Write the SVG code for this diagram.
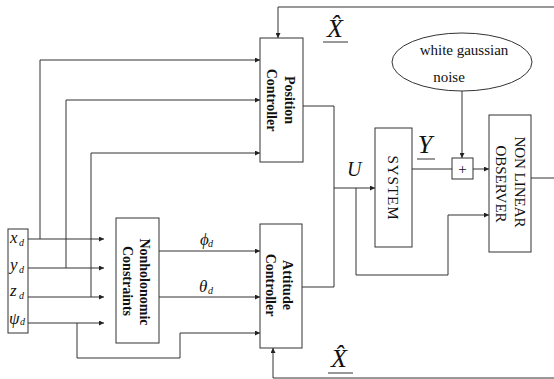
<svg xmlns="http://www.w3.org/2000/svg" width="554" height="379" viewBox="0 0 554 379">
<defs>
<marker id="ah" viewBox="0 0 10 10" refX="10" refY="5" markerWidth="5" markerHeight="5" orient="auto" markerUnits="userSpaceOnUse">
<path d="M0,0 L10,5 L0,10 z" fill="#222"/>
</marker>
<style>
.box{fill:#fff;stroke:#333;stroke-width:1}
.ln{fill:none;stroke:#333;stroke-width:1}
.ar{fill:none;stroke:#333;stroke-width:1;marker-end:url(#ah)}
.lb{font-family:"Liberation Serif",serif;font-weight:bold;font-size:14px;fill:#111}
.rg{font-family:"Liberation Serif",serif;font-size:15px;fill:#111}
.it{font-family:"Liberation Serif",serif;font-style:italic;fill:#111}
.sub{font-family:"Liberation Serif",serif;font-style:italic;font-size:10px;fill:#111}
</style>
</defs>
<rect width="554" height="379" fill="#fff"/>

<g id="connectors">
<polyline class="ar" points="554,7 278,7 278,38"/>
<polyline class="ar" points="40,239 40,60 260,60"/>
<polyline class="ar" points="66,268 66,100 260,100"/>
<polyline class="ar" points="91,297 91,153 260,153"/>
<line class="ar" x1="28" y1="239" x2="104" y2="239"/>
<line class="ar" x1="28" y1="268" x2="104" y2="268"/>
<line class="ar" x1="28" y1="297" x2="104" y2="297"/>
<line class="ar" x1="28" y1="323" x2="104" y2="323"/>
<polyline class="ar" points="77,323 77,358 180,358 180,333 260,333"/>
<line class="ar" x1="159" y1="251" x2="260" y2="251"/>
<line class="ar" x1="159" y1="297" x2="260" y2="297"/>
<polyline class="ar" points="554,378 273,378 273,348"/>
<polyline class="ln" points="303,106 334,106 334,287 302,287"/>
<line class="ar" x1="334" y1="188" x2="375" y2="188"/>
<polyline class="ar" points="356,188 356,275 448,275 448,215 489,215"/>
<line class="ln" x1="412" y1="169" x2="452" y2="169"/>
<line class="ar" x1="473" y1="169" x2="489" y2="169"/>
<line class="ar" x1="462" y1="91" x2="462" y2="158"/>
<line class="ln" x1="531" y1="178" x2="554" y2="178"/>
</g>

<g id="inputs">
<rect class="box" x="8" y="229" width="20" height="104"/>
<text class="it" font-size="17" x="10" y="243">x</text><text class="sub" x="19" y="246">d</text>
<text class="it" font-size="17" x="10" y="270">y</text><text class="sub" x="19" y="273">d</text>
<text class="it" font-size="17" x="10" y="296">z</text><text class="sub" x="19" y="299">d</text>
<text class="it" font-size="17" x="9" y="324">ψ</text><text class="sub" x="20" y="325">d</text>
</g>

<g id="position-controller">
<rect class="box" x="260" y="38" width="43" height="124"/>
<text class="lb" text-anchor="middle" transform="translate(285,100) rotate(90)">Position</text>
<text class="lb" text-anchor="middle" transform="translate(267,100) rotate(90)">Controller</text>
</g>

<g id="attitude-controller">
<rect class="box" x="260" y="224" width="42" height="124"/>
<text class="lb" text-anchor="middle" transform="translate(283,285) rotate(90)">Attitude</text>
<text class="lb" text-anchor="middle" transform="translate(266,285) rotate(90)">Controller</text>
</g>

<g id="nonholonomic">
<rect class="box" x="116" y="218" width="43" height="125"/>
<text class="lb" text-anchor="middle" transform="translate(140,282) rotate(90)">Nonholonomic</text>
<text class="lb" text-anchor="middle" transform="translate(123,281) rotate(90)">Constraints</text>
</g>

<g id="system">
<rect class="box" x="375" y="128" width="37" height="119"/>
<text class="rg" font-size="16" text-anchor="middle" letter-spacing="1" transform="translate(388,188) rotate(90)">SYSTEM</text>
</g>

<g id="sum">
<rect class="box" x="452" y="158" width="21" height="21"/>
<text class="rg" font-size="16" text-anchor="middle" x="462.5" y="174">+</text>
</g>

<g id="noise">
<ellipse class="box" cx="462" cy="62" rx="70" ry="29"/>
<text class="rg" font-size="16" text-anchor="middle" x="464" y="55">white gaussian</text>
<text class="rg" font-size="16" text-anchor="middle" x="449" y="82">noise</text>
</g>

<g id="observer">
<rect class="box" x="489" y="115" width="42" height="137"/>
<text class="rg" text-anchor="middle" transform="translate(515,182) rotate(90)">NON LINEAR</text>
<text class="rg" text-anchor="middle" transform="translate(496,184) rotate(90)">OBSERVER</text>
</g>

<g id="labels">
<text class="it" font-size="26" text-anchor="middle" x="335" y="37">X&#x302;</text>
<line class="ln" x1="323" y1="42" x2="348" y2="42"/>
<text class="it" font-size="26" text-anchor="middle" x="339" y="367">X&#x302;</text>
<line class="ln" x1="328" y1="373" x2="353" y2="373"/>
<text class="it" font-size="26" text-anchor="middle" x="425" y="153">Y</text>
<line class="ln" x1="417" y1="159" x2="435" y2="159"/>
<text class="it" font-size="20" x="347" y="176">U</text>
<text class="it" font-size="17" x="200" y="245">ϕ</text><text class="sub" x="208" y="247">d</text>
<text class="it" font-size="17" x="199" y="292">θ</text><text class="sub" x="208" y="294">d</text>
</g>
</svg>
